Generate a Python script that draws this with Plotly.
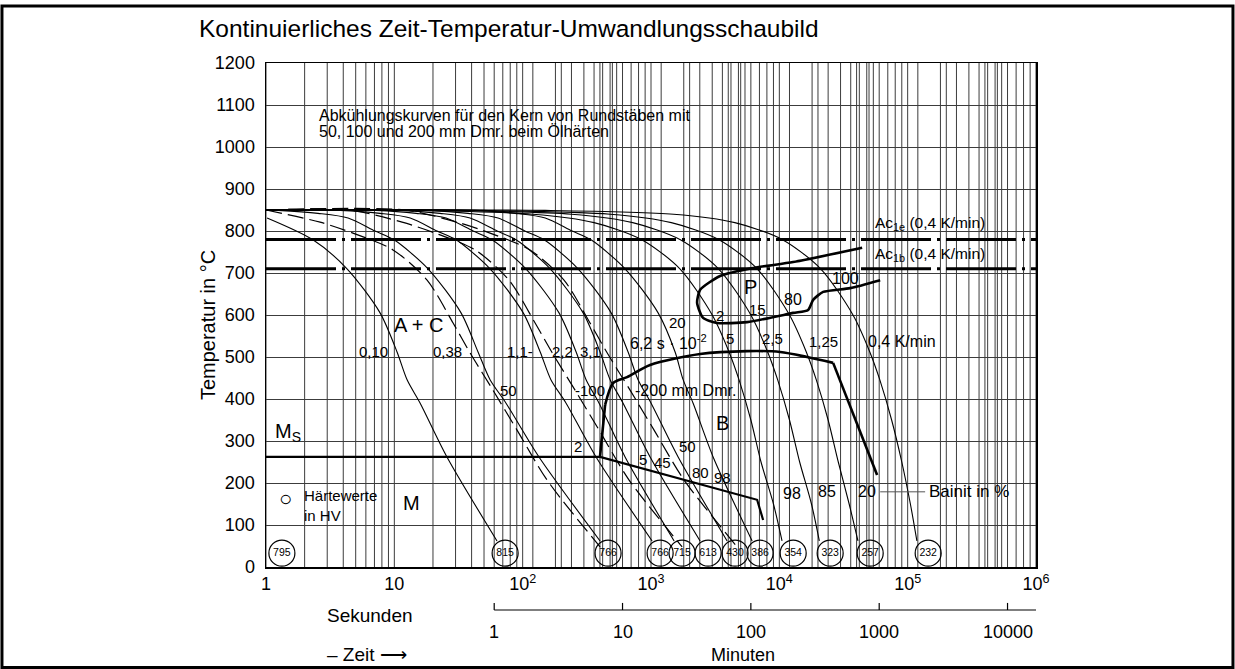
import math
import plotly.graph_objects as go

FONT = "Liberation Sans, Arial, Helvetica, sans-serif"
GRID = "#3c3c3c"

# ---------------- data (time in s, temperature in °C) ----------------
# solid cooling curves labelled with lambda (s*10^-2)
T_010 = [831, 779, 710, 605, 512, 445, 390, 262, 62]
t_010 = [1.02, 2.32, 4.28, 7.74, 10.5, 12.6, 15.9, 25.7, 63.1]

T_LAM = [850, 849, 842, 831, 800, 779, 710, 605, 512, 446, 390, 262, 62]
t_038 = [1, 1.24, 2.54, 4.36, 7.07, 9.95, 18.3, 33.1, 44.9, 55.7, 74.2, 134, 401]
t_11 = [1, 3.77, 7.74, 13.3, 21.5, 30.3, 55.7, 101, 137, 166, 218, 373, 1020]
t_22 = [1, 7.2, 14.8, 25.3, 41.1, 57.7, 106, 192, 261, 312, 394, 628, 1514]
t_31 = [1, 11.1, 22.7, 38.9, 63.2, 88.8, 164, 296, 401, 480, 606, 984, 2414]
t_62 = [1, 18.3, 37.5, 64.3, 104, 147, 270, 489, 663, 793, 1002, 1627, 3919]
t_20 = [1, 42.6, 87.3, 150, 243, 341, 628, 1136, 1541, 1779, 2129, 3048, 6138]

# solid cooling curves labelled in K/min
T_LIN = [850, 849, 840, 820, 780, 710, 600, 512, 446, 350, 250, 150, 62]
t_5 = [1, 12, 120, 360, 840, 1680, 3000, 4056, 4848, 6000, 7200, 9000, 10500]
t_25 = [1, 24, 240, 720, 1680, 3360, 6000, 8112, 9696, 12000, 14400, 17800, 20500]
t_125 = [1, 48, 480, 1440, 3360, 6720, 12000, 16224, 19392, 24000, 28800, 35000, 41000]
t_04 = [1, 150, 1500, 4500, 10500, 21000, 37500, 50700, 60600, 75000, 90000, 105000, 118000]

# dashed core cooling curves of round bars (50, 100, 200 mm)
T_B50 = [850, 821, 795, 755, 683, 581, 510, 421, 326, 207, 48]
t_B50 = [1, 2.64, 4.76, 9.77, 18.0, 28.7, 38.9, 58.7, 90.4, 155, 401]
T_BAR = [850, 850, 821, 795, 755, 683, 581, 510, 421, 326, 207, 48]
t_B100 = [1, 4.44, 11.5, 20.8, 42.6, 78.3, 125, 170, 256, 394, 675, 1748]
t_B200 = [1, 11.9, 30.8, 55.7, 114, 210, 335, 455, 687, 1057, 1811, 4690]

# transformation boundaries
t_bs1 = [401, 439]
T_bs1 = [264, 386]
t_bs2 = [439, 507, 651, 984, 2414, 5610, 10150, 16470, 26260]
T_bs2 = [386, 438, 452, 481, 507, 514, 512, 500, 486]
t_bs3 = [26260, 57800]
T_bs3 = [486, 219]
t_ms = [1, 401, 6714, 7475]
T_ms = [262, 262, 160, 112]
t_pearl = [44200, 12820, 6250, 3456, 2414, 2287, 2546, 3276, 5610, 12820, 16770,
           18340, 21940, 35620, 61070]
T_pearl = [760, 726, 712, 693, 660, 629, 593, 581, 583, 605, 612, 636, 655, 664, 683]
T_AC1E = 780
T_AC1B = 710

# hardness values (HV) at the end of the curves
hv_val = ["795", "815", "766", "766", "715", "613", "430", "386", "354", "323", "257", "232"]
hv_t = [1.33, 73, 463, 1178, 1746, 2786, 4519, 7079, 12820, 24890, 51050, 144500]
HV_T = 33

# axis ticks
sec_ticks = [1, 10, 100, 1000, 10000, 100000, 1000000]
sec_text = ["1", "10", "10<sup>2</sup>", "10<sup>3</sup>", "10<sup>4</sup>",
            "10<sup>5</sup>", "10<sup>6</sup>"]
min_ticks = [1, 10, 100, 1000, 10000]

# in-plot labels: text, time (s), temperature (°C), font size
lab_text = ["0,10", "0,38", "1,1-", "2,2", "3,1", "6,2 s · 10<sup>-2</sup>", "20", "5",
            "2,5", "1,25", "0,4 K/min", "P", "2", "15", "80", "100", "-100", "50",
            "A + C", "B", "M", "2", "5", "45", "50", "80", "98", "98", "85", "20"]
lab_t = [6.82, 25.8, 95.5, 203, 335, 1358, 1596, 4140, 8790, 21900, 90600, 5915, 3460,
         6714, 12820, 32600, 335, 76.9, 15.3, 3580, 13.7, 270, 867, 1222, 1910, 2415,
         3580, 12590, 23600, 48300]
lab_T = [512, 512, 512, 512, 512, 536, 581, 543, 543, 536, 536, 667, 598, 612, 636, 688,
         421, 421, 576, 343, 152, 286, 255, 250, 286, 224, 212, 176, 179, 179]
lab_size = [15, 15, 15, 15, 15, 16, 15, 15, 15, 15, 16, 20, 15, 15, 16, 16, 15, 15,
            20, 20, 20, 15, 15, 15, 15, 15, 15, 16, 16, 16]

fig = go.Figure()

# vertical grid (seconds and minutes log grid)
sec_lines = [k * 10 ** n for n in range(0, 6) for k in range(1, 10)] + [10 ** 6]
min_lines = [60 * k * 10 ** n for n in range(0, 5) for k in range(1, 10) if 60 * k * 10 ** n <= 10 ** 6]
gx, gy = [], []
for v in sorted(set(sec_lines + min_lines)):
    gx += [v, v, None]
    gy += [0, 1200, None]
fig.add_trace(go.Scatter(x=gx, y=gy, mode="lines", line=dict(color=GRID, width=1),
                         hoverinfo="skip", showlegend=False))


def add_line(t, T, width=1.1, dash="solid", shape="spline", smoothing=0.8):
    line = dict(color="black", width=width, dash=dash, shape=shape)
    if shape == "spline":
        line["smoothing"] = smoothing
    fig.add_trace(go.Scatter(x=t, y=T, mode="lines", line=line,
                             hoverinfo="skip", showlegend=False))


# Ac lines
AC_DASH = "70px,6px,3px,6px"
add_line([1, 1e6], [T_AC1E, T_AC1E], width=3, dash=AC_DASH, shape="linear")
add_line([1, 1e6], [T_AC1B, T_AC1B], width=3, dash=AC_DASH, shape="linear")

# solid cooling curves
add_line(t_010, T_010)
for tt in (t_038, t_11, t_22, t_31, t_62, t_20):
    add_line(tt, T_LAM)
for tt in (t_5, t_25, t_125, t_04):
    add_line(tt, T_LIN)

# dashed bar curves
add_line(t_B50, T_B50, width=1.2, dash="16px,6px")
add_line(t_B100, T_BAR, width=1.2, dash="16px,6px")
add_line(t_B200, T_BAR, width=1.2, dash="16px,6px")

# transformation boundaries
add_line(t_bs1, T_bs1, width=2.6, shape="linear")
add_line(t_bs2, T_bs2, width=2.6)
add_line(t_bs3, T_bs3, width=2.6, shape="linear")
add_line(t_ms, T_ms, width=2.2, shape="linear")
add_line(t_pearl, T_pearl, width=2.6, smoothing=0.6)

# hardness circles
fig.add_trace(go.Scatter(
    x=hv_t, y=[HV_T] * len(hv_t), mode="markers+text", text=hv_val,
    textposition="middle center",
    textfont=dict(size=10.5, family=FONT, color="black"),
    marker=dict(symbol="circle-open", size=26, color="black", line=dict(width=1.2)),
    cliponaxis=False, hoverinfo="skip", showlegend=False))

ann = []


def txt(x, y, text, size=15, xanchor="center", xref="x", yref="y", yanchor="middle",
        angle=0, align="center"):
    ann.append(dict(x=x, y=y, xref=xref, yref=yref, text=text, showarrow=False,
                    xanchor=xanchor, yanchor=yanchor, textangle=angle, align=align,
                    font=dict(size=size, family=FONT, color="black")))


for s, t, T, fs in zip(lab_text, lab_t, lab_T, lab_size):
    txt(math.log10(t), T, s, fs)

txt(math.log10(53800), 819, "Ac<sub>1e</sub> (0,4 K/min)", 15.5, "left")
txt(math.log10(53800), 743, "Ac<sub>1b</sub> (0,4 K/min)", 15.5, "left")
txt(math.log10(726), 421, "-200 mm Dmr.", 16, "left")
txt(math.log10(1.135), 321, "M<sub>S</sub>", 20, "left")
txt(math.log10(1.41), 164, "○", 22)
txt(math.log10(1.91), 147, "Härtewerte<br>in HV", 15, "left", align="left")
txt(math.log10(141900), 179, "Bainit in %", 17, "left")
txt(math.log10(2.5), 1076, "Abkühlungskurven für den Kern von Rundstäben mit", 16, "left")
txt(math.log10(2.5), 1036, "50, 100 und 200 mm Dmr. beim Ölhärten", 16, "left")

# leader line for "Bainit in %"
shapes = [dict(type="line", xref="x", yref="y", x0=61070, x1=136800,
               y0=179, y1=179, line=dict(color="#555", width=1))]

# minutes scale below the axis
MIN_Y = -0.0853
shapes.append(dict(type="line", xref="x", yref="paper", x0=60, x1=1e6,
                   y0=MIN_Y, y1=MIN_Y, line=dict(color="black", width=1.2)))
for m in min_ticks:
    shapes.append(dict(type="line", xref="x", yref="paper", x0=60 * m, x1=60 * m,
                       y0=MIN_Y, y1=MIN_Y + 0.014, line=dict(color="black", width=1.2)))
    txt(math.log10(60 * m), -0.129, f"{m}", 18, "center", "x", "paper")

txt(0.62, -0.174, "Minuten", 18, "center", "paper", "paper")
txt(0.077, -0.097, "Sekunden", 19, "left", "paper", "paper")
txt(0.077, -0.174, "– Zeit ⟶", 19, "left", "paper", "paper")

# title and y title
txt(-0.0896, 1.069, "Kontinuierliches Zeit-Temperatur-Umwandlungsschaubild", 24.5,
    "left", "paper", "paper")
txt(-0.0753, 0.48, "Temperatur in °C", 20, "center", "paper", "paper", angle=-90)

# outer frame
shapes.append(dict(type="rect", xref="paper", yref="paper", x0=-0.3429, x1=1.2558,
                   y0=-0.1994, y1=1.1131, line=dict(color="black", width=3),
                   fillcolor="rgba(0,0,0,0)", layer="above"))

fig.update_layout(
    width=1235, height=669, autosize=False,
    margin=dict(l=266, r=199, t=63, b=102),
    paper_bgcolor="white", plot_bgcolor="white",
    showlegend=False, hovermode=False,
    annotations=ann, shapes=shapes,
    font=dict(family=FONT, color="black"),
    xaxis=dict(type="log", range=[0, 6], tickvals=sec_ticks, ticktext=sec_text,
               showgrid=False, zeroline=False, showline=True, mirror=True,
               linecolor="black", linewidth=1.5, ticks="",
               tickfont=dict(size=18, family=FONT, color="black")),
    yaxis=dict(range=[0, 1200], tick0=0, dtick=100, showgrid=True, gridcolor=GRID,
               gridwidth=1, zeroline=False, showline=True, mirror=True,
               linecolor="black", linewidth=1.5, ticks="", ticklabelstandoff=6,
               tickfont=dict(size=18, family=FONT, color="black")),
)

fig.write_html("out.html", config={"displayModeBar": False, "staticPlot": True},
               post_script="document.body.style.margin='0px';document.body.style.padding='0px';")
